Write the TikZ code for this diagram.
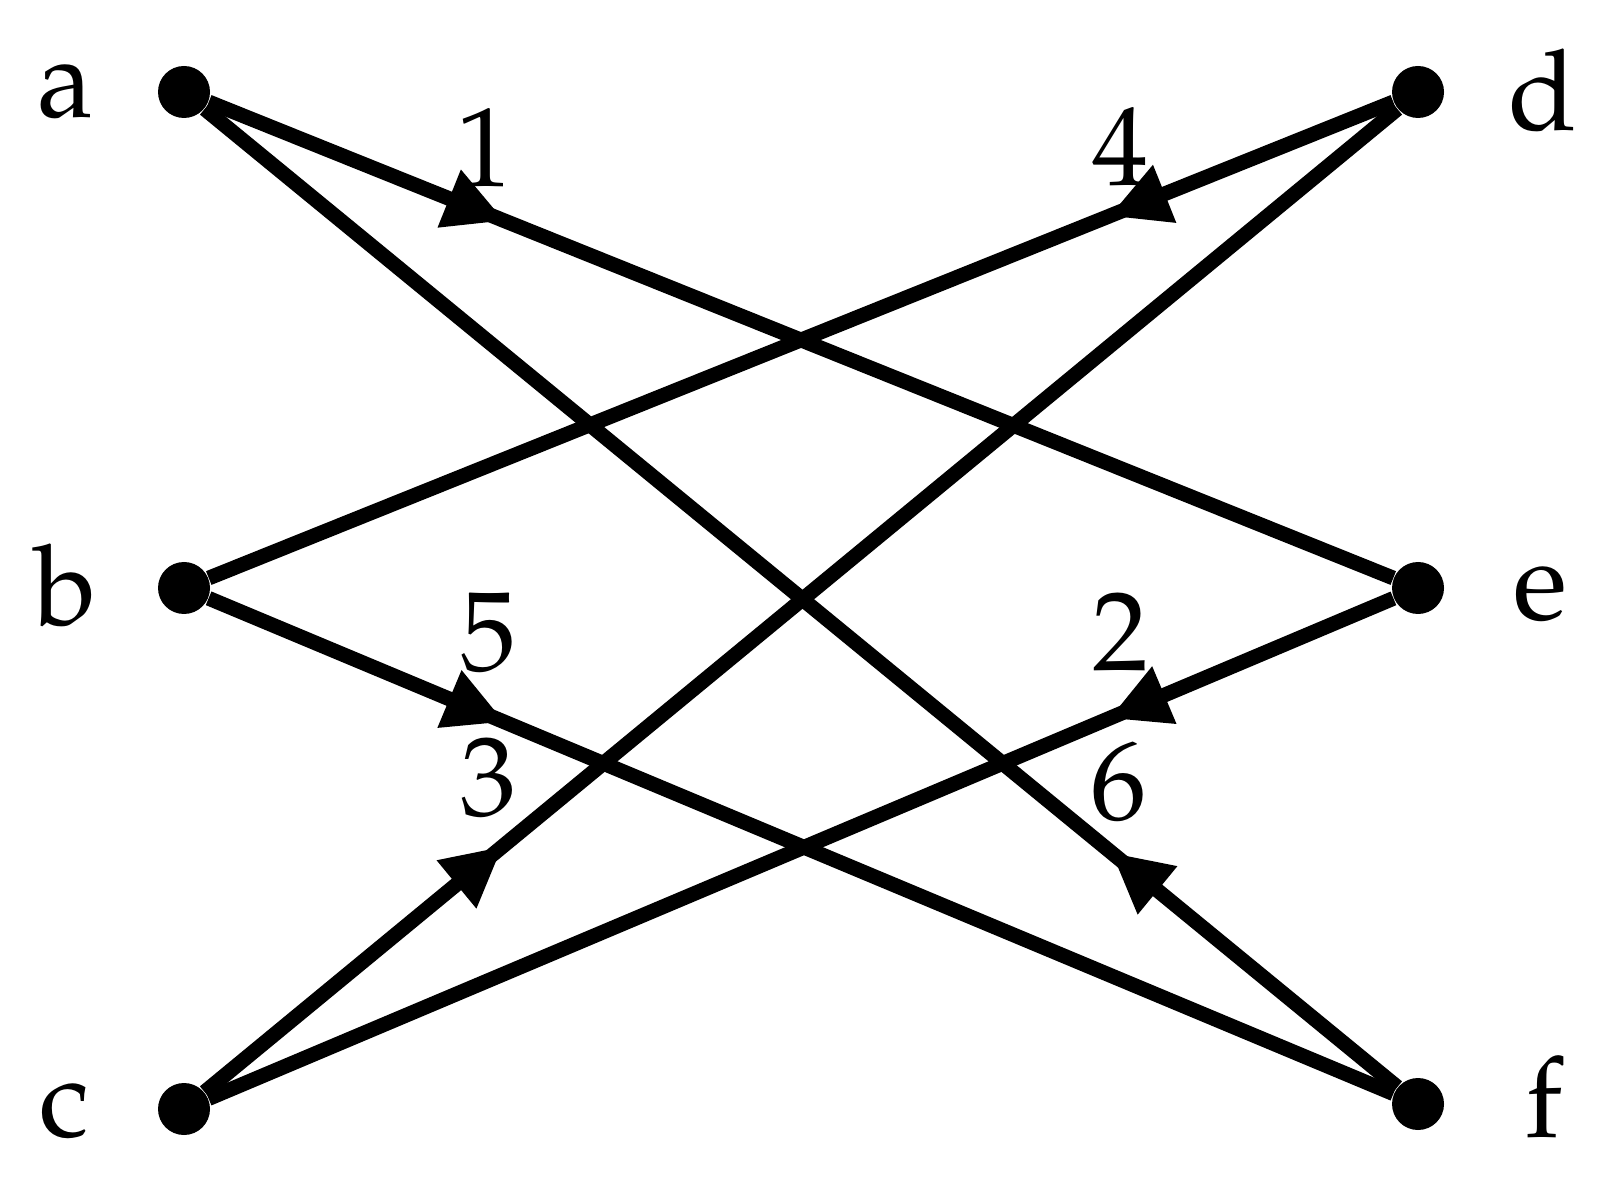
\documentclass[tikz,border=0pt]{standalone}
\usepackage[T1]{fontenc}
\usepackage{mathpazo}
\usetikzlibrary{arrows.meta,decorations.markings}

\tikzset{
	vtx/.style={circle, fill, inner sep=0pt, minimum size=0.52cm},
	edge/.style={line width=4.2pt},
	midarrow/.style={postaction={decorate}, decoration={markings,
		mark=at position #1 with {\arrow{Triangle[length=6mm,width=5.8mm]}}}}
}

\begin{document}
\begin{tikzpicture}[font=\fontsize{32}{38}\selectfont]
				\useasboundingbox (0,0) rectangle (16.03,-11.79);

				% 頂点
				\node[vtx] (a) at (1.84, -0.92) {};
				\node[vtx] (b) at (1.84, -5.88) {};
				\node[vtx] (c) at (1.84, -11.09) {};
				\node[vtx] (d) at (14.18, -0.92) {};
				\node[vtx] (e) at (14.18, -5.88) {};
				\node[vtx] (f) at (14.18, -11.04) {};

				% 名前
				\node (la) at (0.66, -0.90) {a};
				\node (lb) at (0.66, -5.85) {b};
				\node (lc) at (0.64, -11.10) {c};
				\node (ld) at (15.43, -0.90) {d};
				\node (le) at (15.40, -5.93) {e};
				\node (lf) at (15.44, -10.97) {f};

				% 辺を引く
				\draw[edge, midarrow=0.25] (a) -- (e);
				\draw[edge, midarrow=0.24] (f) -- (a);
				\draw[edge, midarrow=0.24] (d) -- (b);
				\draw[edge, midarrow=0.25] (c) -- (d);
				\draw[edge, midarrow=0.25] (b) -- (f);
				\draw[edge, midarrow=0.24] (e) -- (c);

				% 番号
				\node (n1) at (4.85, -1.48) {1};
				\node (n2) at (11.21, -6.32) {2};
				\node (n3) at (4.89, -7.78) {3};
				\node (n4) at (11.21, -1.47) {4};
				\node (n5) at (4.89, -6.33) {5};
				\node (n6) at (11.19, -7.82) {6};

			\end{tikzpicture}
\end{document}
